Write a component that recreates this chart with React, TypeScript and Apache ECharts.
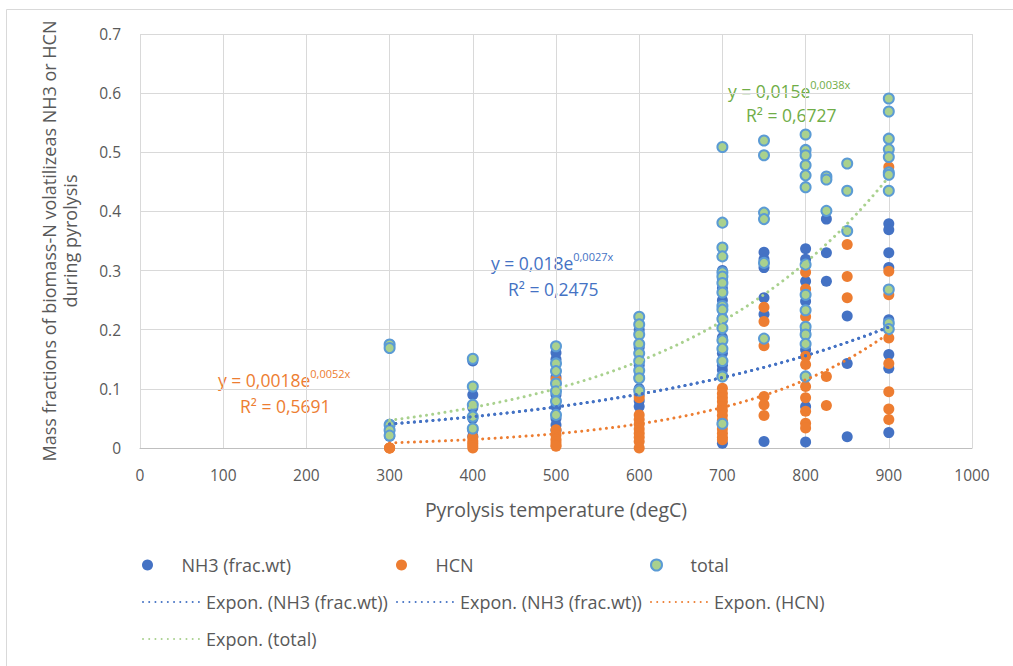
import React, { useEffect, useRef } from "react";
import * as echarts from "echarts";

// Pyrolysis temperatures (degC) at which samples were measured
const temperatures = [300, 400, 500, 600, 700, 750, 800, 825, 850, 900];

// Mass fraction of biomass-N released as NH3, per temperature
const nh3Values = [
  [0.175, 0.17, 0.04, 0.03, 0.02],
  [0.147, 0.09, 0.068, 0.05, 0.03, 0.02],
  [0.161, 0.15, 0.12, 0.09, 0.07, 0.05, 0.039, 0.03],
  [0.2, 0.17, 0.14, 0.12, 0.1, 0.09, 0.08, 0.07],
  [0.3, 0.285, 0.27, 0.25, 0.22, 0.187, 0.16, 0.14, 0.132, 0.008],
  [0.331, 0.319, 0.305, 0.254, 0.226, 0.011],
  [0.337, 0.319, 0.282, 0.248, 0.2, 0.166, 0.12, 0.07, 0.01],
  [0.387, 0.33, 0.282],
  [0.223, 0.143, 0.019],
  [0.379, 0.369, 0.33, 0.305, 0.217, 0.158, 0.135, 0.026],
];

// Mass fraction of biomass-N released as HCN, per temperature
const hcnValues = [
  [0.0, 0.0, 0.0],
  [0.018, 0.012, 0.008, 0.004, 0.0],
  [0.116, 0.031, 0.022, 0.015, 0.01, 0.005, 0.003],
  [0.085, 0.056, 0.048, 0.04, 0.032, 0.025, 0.018, 0.011, 0.0],
  [0.101, 0.092, 0.085, 0.078, 0.07, 0.063, 0.055, 0.047, 0.04, 0.032, 0.025, 0.018, 0.014],
  [0.238, 0.214, 0.173, 0.087, 0.073, 0.055],
  [0.297, 0.269, 0.222, 0.155, 0.141, 0.104, 0.085, 0.062, 0.042, 0.034],
  [0.121, 0.072],
  [0.344, 0.29, 0.254],
  [0.475, 0.299, 0.259, 0.186, 0.143, 0.095, 0.066, 0.048],
];

// Total (NH3 + HCN) fraction, per temperature
const totalValues = [
  [0.175, 0.169, 0.039, 0.03, 0.021],
  [0.151, 0.104, 0.073, 0.053, 0.033],
  [0.172, 0.143, 0.13, 0.109, 0.096, 0.079, 0.056],
  [0.222, 0.209, 0.192, 0.176, 0.16, 0.147, 0.131, 0.118, 0.097],
  [0.509, 0.381, 0.339, 0.324, 0.297, 0.29, 0.279, 0.263, 0.24, 0.234, 0.218, 0.203, 0.182, 0.168, 0.147, 0.121, 0.041],
  [0.52, 0.495, 0.398, 0.387, 0.313, 0.185],
  [0.53, 0.504, 0.495, 0.478, 0.461, 0.441, 0.31, 0.259, 0.233, 0.205, 0.192, 0.176, 0.121],
  [0.459, 0.454, 0.401],
  [0.481, 0.435, 0.367],
  [0.591, 0.569, 0.523, 0.505, 0.492, 0.466, 0.462, 0.435, 0.268, 0.211, 0.201],
];

// Exponential trend lines y = a * e^(b x): NH3, HCN, total
const trendA = [0.018, 0.0018, 0.015];
const trendB = [0.0027, 0.0052, 0.0038];
const trendR2 = ["0,2475", "0,5691", "0,6727"];
const trendRange = [300, 900];

const xTicks = [0, 1000, 100];
const yTicks = [0, 0.7, 0.1];

const BLUE = "#4472C4";
const ORANGE = "#ED7D31";
const GREEN = "#A9D18E";
const GREEN_TEXT = "#70AD47";
const LIGHT_BLUE = "#5B9BD5";
const AXIS_TEXT = "#595959";
const FONT = "Open Sans";

const toPairs = (values: number[][]) =>
  temperatures.flatMap((t, i) => values[i].map((v) => [t, v]));

const trendCurve = (k: number) => {
  const pts: number[][] = [];
  for (let x = trendRange[0]; x <= trendRange[1]; x += 5) {
    pts.push([x, trendA[k] * Math.exp(trendB[k] * x)]);
  }
  return pts;
};

const comma = (n: number) => String(n).replace(".", ",");

const dotted = (color: string) => ({
  color,
  width: 3,
  type: [0.01, 6.2] as number[],
  cap: "round" as const,
});

const NAMES = {
  nh3: "NH3 (frac.wt)",
  hcn: "HCN",
  total: "total",
  tNh3: "Expon. (NH3 (frac.wt))",
  tNh3b: "Expon. (NH3 (frac.wt)) #2",
  tHcn: "Expon. (HCN)",
  tTotal: "Expon. (total)",
};

function equationText(k: number, color: string, x: number, y: number, rx: number, ry: number) {
  return [
    {
      type: "text",
      x,
      y,
      silent: true,
      style: {
        text: `{m|y = ${comma(trendA[k])}e}{s|${comma(trendB[k])}x}`,
        fill: color,
        verticalAlign: "middle",
        rich: {
          m: { fontSize: 17.5, fontFamily: FONT, fill: color, lineHeight: 24 },
          s: { fontSize: 11, fontFamily: FONT, fill: color, verticalAlign: "top", lineHeight: 12 },
        },
      },
    },
    {
      type: "text",
      x: rx,
      y: ry,
      silent: true,
      style: {
        text: `R² = ${trendR2[k]}`,
        fill: color,
        font: `17.5px '${FONT}'`,
        verticalAlign: "middle",
      },
    },
  ];
}

function legendItem(name: string, left: number, top: number, isLine: boolean, label?: string) {
  return {
    data: [isLine ? { name, itemStyle: { opacity: 0 } } : { name }],
    left,
    top,
    orient: "horizontal",
    itemWidth: 58,
    itemHeight: 11,
    selectedMode: false,
    padding: 0,
    formatter: label ? () => label : undefined,
    textStyle: { fontSize: 18, color: AXIS_TEXT, fontFamily: FONT, padding: [0, 0, 0, 0] },
  };
}

export default function App() {
  const ref = useRef<HTMLDivElement>(null);

  useEffect(() => {
    if (!ref.current) return;
    const chart = echarts.init(ref.current, undefined, { renderer: "svg" });

    const option: any = {
      animation: false,
      backgroundColor: "#FFFFFF",
      textStyle: { fontFamily: FONT },
      grid: { left: 140, right: 41, top: 34, bottom: 218, containLabel: false },
      xAxis: {
        type: "value",
        min: xTicks[0],
        max: xTicks[1],
        interval: xTicks[2],
        axisLine: { show: true, lineStyle: { color: "#BFBFBF", width: 1 } },
        axisTick: { show: false },
        splitLine: { show: true, lineStyle: { color: "#D9D9D9", width: 1 } },
        axisLabel: {
          color: AXIS_TEXT,
          fontSize: 15.5,
          fontFamily: FONT,
          margin: 19,
          formatter: (v: number) => String(v),
        },
        name: "Pyrolysis temperature (degC)",
        nameLocation: "middle",
        nameGap: 51,
        nameTextStyle: { color: AXIS_TEXT, fontSize: 19.5, fontFamily: FONT },
      },
      yAxis: {
        type: "value",
        min: yTicks[0],
        max: yTicks[1],
        interval: yTicks[2],
        axisLine: { show: false },
        axisTick: { show: false },
        splitLine: { show: true, lineStyle: { color: "#D9D9D9", width: 1 } },
        axisLabel: {
          color: AXIS_TEXT,
          fontSize: 15.5,
          fontFamily: FONT,
          margin: 19,
          formatter: (v: number) => (v === 0 ? "0" : v.toFixed(1)),
        },
        name: "Mass fractions of biomass-N volatilizeas NH3 or HCN\nduring pyrolysis",
        nameLocation: "middle",
        nameRotate: 90,
        nameGap: 60,
        nameTextStyle: { color: AXIS_TEXT, fontSize: 18, fontFamily: FONT, lineHeight: 21 },
      },
      legend: [
        legendItem(NAMES.nh3, 142, 556, false),
        legendItem(NAMES.hcn, 396, 556, false),
        legendItem(NAMES.total, 650, 556, false),
        legendItem(NAMES.tNh3, 142, 593, true),
        legendItem(NAMES.tNh3b, 396, 593, true, NAMES.tNh3),
        legendItem(NAMES.tHcn, 650, 593, true),
        legendItem(NAMES.tTotal, 142, 630, true),
      ],
      series: [
        {
          name: NAMES.nh3,
          type: "scatter",
          symbol: "circle",
          symbolSize: 11,
          itemStyle: { color: BLUE, opacity: 1 },
          data: toPairs(nh3Values),
        },
        {
          name: NAMES.hcn,
          type: "scatter",
          symbol: "circle",
          symbolSize: 11,
          itemStyle: { color: ORANGE, opacity: 1 },
          data: toPairs(hcnValues),
        },
        {
          name: NAMES.total,
          type: "scatter",
          symbol: "circle",
          symbolSize: 10,
          itemStyle: { color: GREEN, borderColor: LIGHT_BLUE, borderWidth: 2, opacity: 1 },
          data: toPairs(totalValues),
        },
        {
          name: NAMES.tNh3,
          type: "line",
          symbol: "none",
          lineStyle: dotted(BLUE),
          itemStyle: { color: BLUE },
          data: trendCurve(0),
        },
        {
          name: NAMES.tNh3b,
          type: "line",
          symbol: "none",
          lineStyle: dotted(BLUE),
          itemStyle: { color: BLUE },
          data: trendCurve(0),
        },
        {
          name: NAMES.tHcn,
          type: "line",
          symbol: "none",
          lineStyle: dotted(ORANGE),
          itemStyle: { color: ORANGE },
          data: trendCurve(1),
        },
        {
          name: NAMES.tTotal,
          type: "line",
          symbol: "none",
          lineStyle: dotted(GREEN),
          itemStyle: { color: GREEN },
          data: trendCurve(2),
        },
      ],
      graphic: [
        {
          type: "rect",
          silent: true,
          z: -10,
          shape: { x: 6.5, y: 9.5, width: 1020, height: 670 },
          style: { fill: "none", stroke: "#D9D9D9", lineWidth: 1 },
        },
        ...equationText(0, BLUE, 491, 263, 508, 289),
        ...equationText(1, ORANGE, 218, 380, 240, 406),
        ...equationText(2, GREEN_TEXT, 728, 91, 746, 115),
      ],
    };

    chart.setOption(option);
    return () => chart.dispose();
  }, []);

  return (
    <div
      ref={ref}
      style={{ position: "absolute", left: 0, top: 0, width: 1013, height: 666, background: "#fff" }}
    />
  );
}
